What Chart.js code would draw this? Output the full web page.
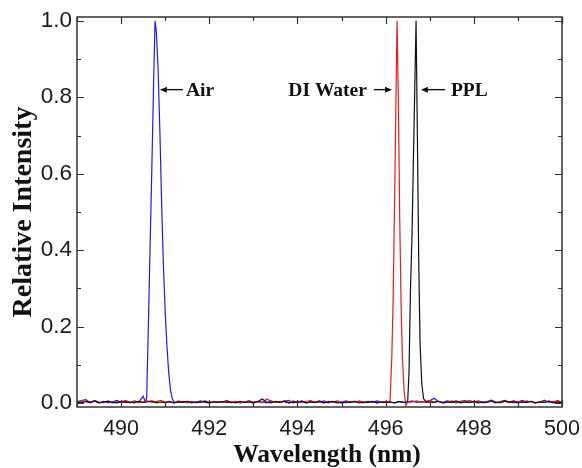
<!DOCTYPE html>
<html>
<head>
<meta charset="utf-8">
<script src="https://cdn.jsdelivr.net/npm/chart.js@4.4.1/dist/chart.umd.min.js"></script>
<style>
  html, body { margin: 0; padding: 0; background: #fff; }
  #wrap { width: 582px; height: 468px; position: relative; }
</style>
</head>
<body>
<div id="wrap"><canvas id="spectrum"></canvas></div>
<script>
// 基线采样：489.0 nm 起，每 0.1 nm 一个点（峰区用 null，由峰数据替代）
const baseStart = 489.0;
const baseStep = 0.1;

const airBase = [
    .004, .007, .009, .002, .006, .001, .005, .001, .003, .007,
    .002, .005, .001, .006, .003, null, null, null, null, null,
    null, null, null, .002, .005, .001, .004, .002, .006, .002,
    .001, .005, .002, .003, .007, .001, .004, .001, .003, .006,
    .002, .005, .003, .001, .006, .002, .002, .005, .007, .001,
    .003, .006, .001, .004, .002, .003, .006, .001, .004, .001,
    .003, .006, .002, .005, .003, .001, .005, .002, .006, .003,
    .002, .003, .001, .005, .002, .003, .006, .002, .004, .003,
    .006, .013, .004, .002, .006, .003, .001, .005, .007, .002,
    .003, .006, .002, .004, .008, .003, .001, .005, .002, .006,
    .003, .007, .002, .005, .001, .003, .008, .002, .005, .003, .002
];
const waterBase = [
    .002, .006, .003, .001, .007, .003, .001, .006, .001, .004,
    .003, .007, .002, .005, .001, .003, .006, .002, .004, .007,
    .002, .003, .001, .006, .003, .002, .005, .001, .003, .006,
    .002, .004, .003, .003, .006, .002, .005, .001, .003, .006,
    .002, .004, .001, .011, .005, .002, .005, .003, .001, .006,
    .003, .002, .005, .007, .002, .003, .001, .005, .002, .006,
    .003, .001, .005, .002, .006, .003, .002, .005, .001, .003,
    .004, null, null, null, null, null, .003, .006, .002, .004,
    .007, .002, .005, .001, .003, .006, .002, .004, .003, .007,
    .002, .005, .001, .003, .006, .002, .004, .007, .003, .001,
    .005, .002, .006, .003, .001, .005, .002, .006, .003, .007, .002
];
const pplBase = [
    .003, .001, .005, .002, .006, .001, .003, .005, .002, .001,
    .004, .002, .003, .001, .005, .002, .003, .006, .001, .003,
    .002, .005, .001, .003, .002, .005, .001, .003, .002, .005,
    .001, .003, .003, .004, .002, .003, .001, .005, .002, .003,
    .001, .004, .011, .003, .001, .005, .002, .006, .001, .003,
    .002, .005, .001, .003, .002, .006, .001, .003, .005, .002,
    .001, .003, .002, .005, .001, .003, .002, .005, .001, .003,
    .002, .003, .001, .004, .002, null, null, null, null, null,
    .003, .002, .005, .001, .003, .002, .006, .001, .003, .002,
    .005, .001, .003, .002, .005, .001, .003, .006, .002, .004,
    .001, .003, .002, .005, .001, .003, .002, .005, .001, .003, .002
];

// 峰区数据
const airPeakWl = [490.50, 490.55, 490.58, 490.62, 490.66, 490.70, 490.74, 490.77, 490.80, 490.84,
                   490.88, 490.92, 490.96, 491.00, 491.04, 491.08, 491.12, 491.16, 491.20];
const airPeakI  = [0.018, 0.004, 0.012, 0.21, 0.42, 0.63, 0.85, 1.00, 0.97, 0.87,
                   0.71, 0.52, 0.36, 0.24, 0.15, 0.08, 0.035, 0.012, 0.003];
const waterPeakWl = [496.05, 496.10, 496.14, 496.17, 496.20, 496.23, 496.26, 496.29, 496.32, 496.35,
                     496.38, 496.42, 496.46, 496.50, 496.55];
const waterPeakI  = [0.003, 0.006, 0.12, 0.27, 0.50, 0.76, 1.00, 0.78, 0.48, 0.26,
                     0.12, 0.03, -0.006, 0.004, 0.002];
const pplPeakWl = [496.45, 496.50, 496.53, 496.56, 496.60, 496.64, 496.69, 496.72, 496.75, 496.78,
                   496.82, 496.86, 496.92];
const pplPeakI  = [0.002, 0.005, 0.08, 0.28, 0.45, 0.70, 1.00, 0.70, 0.38, 0.16,
                   0.05, 0.012, 0.003];

const seriesLabels = ['Air', 'DI Water', 'PPL'];
const xTickValues = [490, 492, 494, 496, 498, 500];
const yTickValues = [0.0, 0.2, 0.4, 0.6, 0.8, 1.0];
const xTitle = 'Wavelength (nm)';
const yTitle = 'Relative Intensity';

// 标注（箭头 + 文字）
const arrowLevel = 0.82;
const annotations = [
    { text: 'Air', head: 490.88, tail: 491.40, textAt: 491.47, align: 'left' },
    { text: 'DI Water', head: 496.145, tail: 495.735, textAt: 495.575, align: 'right' },
    { text: 'PPL', head: 496.80, tail: 497.35, textAt: 497.48, align: 'left' }
];

function buildSeries(base, peakWl, peakI) {
    const pts = [];
    base.forEach((v, i) => {
        if (v !== null) pts.push({ x: +(baseStart + i * baseStep).toFixed(2), y: v });
    });
    peakWl.forEach((w, i) => pts.push({ x: w, y: peakI[i] }));
    pts.sort((a, b) => a.x - b.x);
    return pts;
}

const sansFont = '"Liberation Sans", Arial, sans-serif';
const serifFont = '"Liberation Serif", "Times New Roman", serif';

// 边框、内向刻度、标注、x 轴标题
const framePlugin = {
    id: 'framePlugin',
    afterDatasetsDraw(chart) {
        const { ctx, chartArea: a, scales: { x, y } } = chart;
        ctx.save();
        ctx.strokeStyle = '#333';
        ctx.lineWidth = 1.2;
        ctx.beginPath();
        for (let v = 489; v <= 500; v++) {
            const px = Math.round(x.getPixelForValue(v)) + 0.5;
            const len = xTickValues.includes(v) ? 7 : 4;
            ctx.moveTo(px, a.bottom); ctx.lineTo(px, a.bottom - len);
            ctx.moveTo(px, a.top); ctx.lineTo(px, a.top + len);
        }
        for (let k = 0; k <= 10; k++) {
            const py = Math.round(y.getPixelForValue(k / 10)) + 0.5;
            const len = k % 2 === 0 ? 7 : 4;
            ctx.moveTo(a.left, py); ctx.lineTo(a.left + len, py);
            ctx.moveTo(a.right, py); ctx.lineTo(a.right - len, py);
        }
        ctx.stroke();
        ctx.lineWidth = 1.5;
        ctx.strokeRect(a.left, a.top, a.right - a.left, a.bottom - a.top);

        // 箭头标注
        const py = y.getPixelForValue(arrowLevel);
        ctx.strokeStyle = '#111';
        ctx.fillStyle = '#111';
        ctx.lineWidth = 1.4;
        ctx.font = 'bold 19.5px ' + serifFont;
        ctx.textBaseline = 'middle';
        annotations.forEach(an => {
            const hx = x.getPixelForValue(an.head);
            const tx = x.getPixelForValue(an.tail);
            const dir = hx > tx ? 1 : -1;
            ctx.beginPath();
            ctx.moveTo(tx, py);
            ctx.lineTo(hx - dir * 5, py);
            ctx.stroke();
            ctx.beginPath();
            ctx.moveTo(hx, py);
            ctx.lineTo(hx - dir * 7, py - 3);
            ctx.lineTo(hx - dir * 7, py + 3);
            ctx.closePath();
            ctx.fill();
            ctx.textAlign = an.align;
            ctx.fillText(an.text, x.getPixelForValue(an.textAt), py + 1);
        });

        // x 轴标题（原图略偏右）
        ctx.font = 'bold 25.5px ' + serifFont;
        ctx.textAlign = 'center';
        ctx.textBaseline = 'alphabetic';
        ctx.fillText(xTitle, 327, 462);
        ctx.restore();
    }
};

const ctx = document.getElementById('spectrum').getContext('2d');
const chart = new Chart(ctx, {
    type: 'line',
    data: {
        datasets: [
            {
                label: seriesLabels[2],
                data: buildSeries(pplBase, pplPeakWl, pplPeakI),
                borderColor: '#111111',
                order: 1
            },
            {
                label: seriesLabels[1],
                data: buildSeries(waterBase, waterPeakWl, waterPeakI),
                borderColor: '#f01818',
                order: 2
            },
            {
                label: seriesLabels[0],
                data: buildSeries(airBase, airPeakWl, airPeakI),
                borderColor: '#1a1aff',
                order: 3
            }
        ]
    },
    options: {
        responsive: true,
        maintainAspectRatio: false,
        devicePixelRatio: 1,
        animation: false,
        parsing: false,
        elements: {
            line: { borderWidth: 1.2, tension: 0 },
            point: { radius: 0 }
        },
        layout: { padding: { left: 0, top: 17, right: 20, bottom: 0 } },
        plugins: {
            legend: { display: false },
            tooltip: { enabled: false }
        },
        scales: {
            x: {
                type: 'linear',
                min: 489,
                max: 500,
                afterBuildTicks: scale => { scale.ticks = xTickValues.map(v => ({ value: v })); },
                afterFit: scale => {
                    scale.height = 61;
                    scale.paddingLeft = 0;
                    scale.paddingRight = 0;
                },
                grid: { display: false, drawTicks: false },
                border: { display: false },
                ticks: {
                    padding: 9,
                    color: '#1a1a1a',
                    font: { family: sansFont, size: 21.5 },
                    maxRotation: 0
                },
                title: { display: false }
            },
            y: {
                min: -0.01,
                max: 1.01,
                afterBuildTicks: scale => { scale.ticks = yTickValues.map(v => ({ value: v })); },
                afterFit: scale => {
                    scale.width = 77;
                    scale.paddingTop = 0;
                    scale.paddingBottom = 0;
                },
                grid: { display: false, drawTicks: false },
                border: { display: false },
                ticks: {
                    padding: 5,
                    color: '#1a1a1a',
                    font: { family: sansFont, size: 22.5 },
                    callback: v => v.toFixed(1)
                },
                title: {
                    display: true,
                    text: yTitle,
                    color: '#111',
                    font: { family: serifFont, size: 28, weight: 'bold' },
                    padding: { top: 7, bottom: 0 }
                }
            }
        }
    },
    plugins: [framePlugin]
});
</script>
</body>
</html>
